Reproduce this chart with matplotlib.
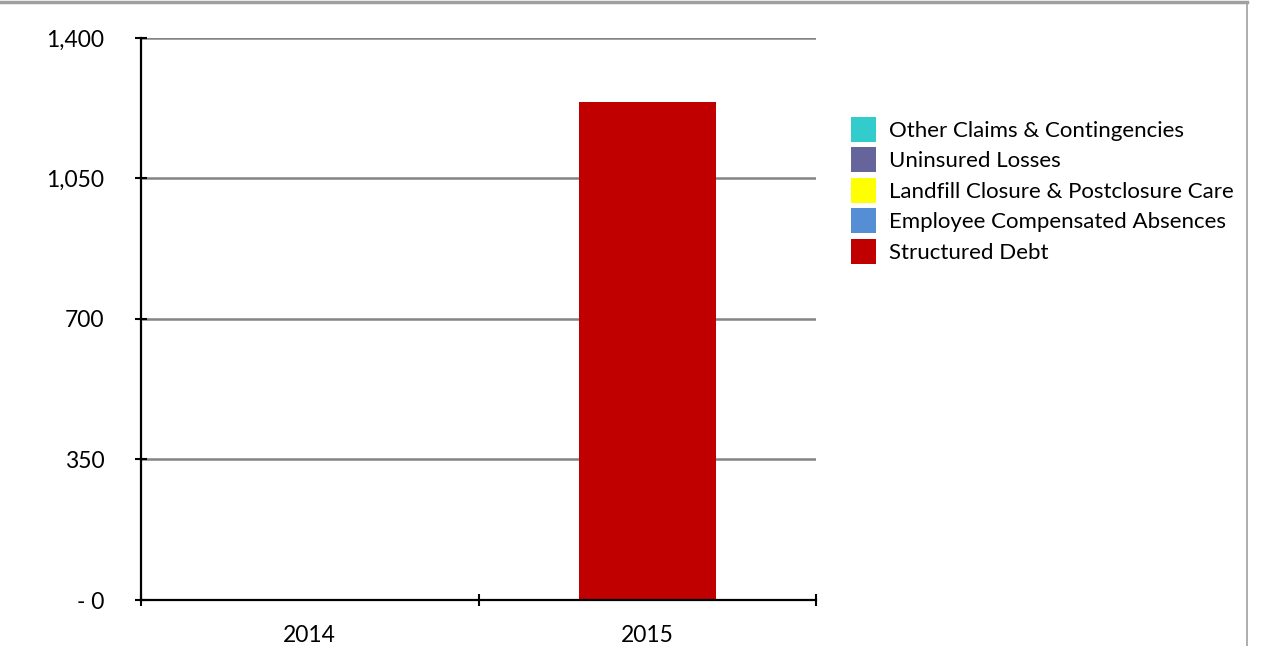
import numpy as np
import matplotlib.pyplot as plt
from matplotlib.lines import Line2D

# Data (values in the stack, bottom to top)
years = ['2014', '2015']
structured_debt = [0, 1240]
employee_absences = [0, 0]
landfill_care = [0, 0]
uninsured_losses = [0, 0]
other_claims = [0, 0]

series_names = ['Structured Debt', 'Employee Compensated Absences',
                'Landfill Closure & Postclosure Care', 'Uninsured Losses',
                'Other Claims & Contingencies']
series_vals = [structured_debt, employee_absences, landfill_care,
               uninsured_losses, other_claims]
series_cols = ['#c00000', '#558ed5', '#ffff00', '#65659b', '#33cccc']

y_ticks = [0, 350, 700, 1050, 1400]
y_labels = ['- 0', '350', '700', '1,050', '1,400']

plt.rcParams['font.family'] = ['Lato', 'DejaVu Sans']

fig = plt.figure(figsize=(12.65, 6.46), dpi=100)
ax = fig.add_axes([0.1115, 0.0712, 0.5336, 0.87])

x = np.arange(len(years))
bottom = np.zeros(len(years))
handles = []
for name, vals, col in zip(series_names, series_vals, series_cols):
    b = ax.bar(x, vals, width=0.405, bottom=bottom, color=col, label=name,
               zorder=3)
    bottom += np.array(vals)
    handles.append(b)

ax.set_xlim(-0.5, 1.5)
ax.set_ylim(0, 1400)

# gridlines
ax.set_yticks(y_ticks)
ax.set_yticklabels(y_labels, fontsize=16.5)
ax.yaxis.grid(True, color='#848484', lw=1.8, zorder=1)
ax.tick_params(axis='y', direction='inout', length=9, width=1.5, pad=22)

# category labels in the middle, ticks on the boundaries
ax.set_xticks(x)
ax.set_xticklabels(years, fontsize=16.5)
ax.set_xticks([-0.5, 0.5, 1.5], minor=True)
ax.tick_params(axis='x', which='major', length=0, pad=18)
ax.tick_params(axis='x', which='minor', direction='inout', length=9, width=1.5)

for s in ['top', 'right']:
    ax.spines[s].set_visible(False)
for s in ['left', 'bottom']:
    ax.spines[s].set_linewidth(1.6)
    ax.spines[s].set_zorder(4)

fig.legend(handles[::-1], series_names[::-1], loc='upper left',
           bbox_to_anchor=(0.6655, 0.833), frameon=False, fontsize=16,
           handlelength=1.13, handleheight=1.35, handletextpad=0.58,
           labelspacing=0.25, borderaxespad=0)

# frame bits around the picture
fig.add_artist(Line2D([0, 0.9855], [0.997, 0.997], color='#a0a0a0', lw=2.5,
                      transform=fig.transFigure))
fig.add_artist(Line2D([0.9855, 0.9855], [0, 0.997], color='#a0a0a0', lw=1.2,
                      transform=fig.transFigure))

fig.savefig('out.png', dpi=100)
